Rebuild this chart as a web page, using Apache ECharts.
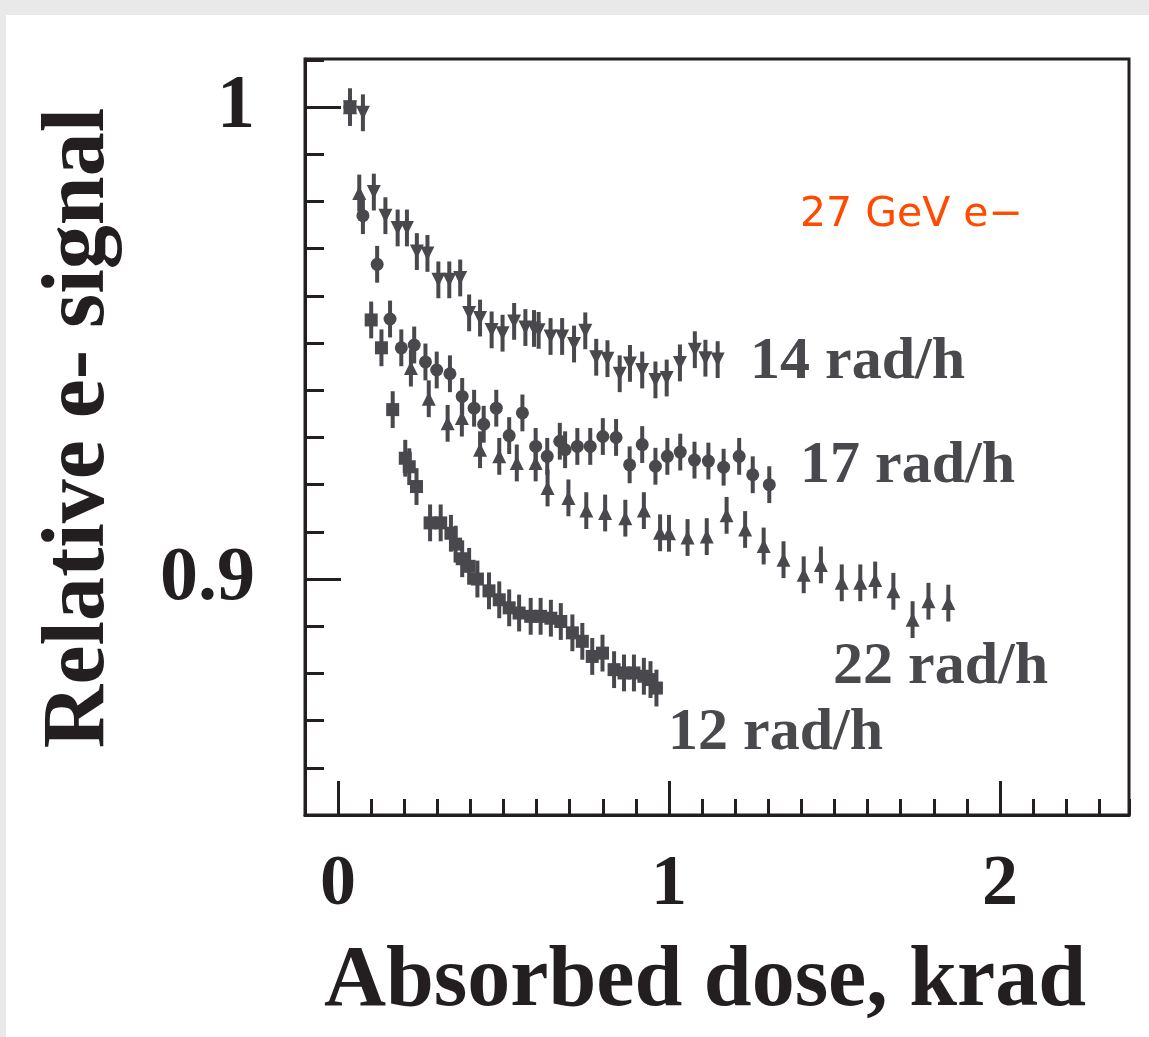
<!DOCTYPE html>
<html>
<head>
<meta charset="utf-8">
<title>Relative e- signal vs absorbed dose</title>
<script src="https://cdn.jsdelivr.net/npm/echarts@6/dist/echarts.min.js"></script>
<style>
  html, body { margin: 0; padding: 0; background: #e9e9e9; }
  #paper { position: absolute; left: 6px; top: 15px; right: 0; bottom: 0; background: #ffffff; }
  #chart { position: absolute; left: 0; top: 0; width: 1149px; height: 1037px; }
</style>
</head>
<body>
<div id="paper"></div>
<div id="chart"></div>
<script>
// Absorbed dose (krad) and relative e- signal for each dose rate
const dose14 = [0.036, 0.075, 0.108, 0.143, 0.180, 0.208, 0.238, 0.270, 0.303, 0.336, 0.369, 0.396, 0.429, 0.464, 0.497, 0.532, 0.566, 0.592, 0.606, 0.642, 0.677, 0.713, 0.747, 0.780, 0.814, 0.851, 0.882, 0.919, 0.959, 0.993, 1.033, 1.078, 1.110, 1.147];
const signal14 = [1.000, 0.9988, 0.982, 0.977, 0.9744, 0.9744, 0.9694, 0.969, 0.9634, 0.9634, 0.9638, 0.9564, 0.9553, 0.9528, 0.9521, 0.9546, 0.9533, 0.9531, 0.9527, 0.9514, 0.9514, 0.9498, 0.9526, 0.947, 0.9467, 0.9435, 0.9457, 0.9443, 0.9422, 0.9426, 0.9458, 0.9486, 0.9468, 0.9465];

const dose17 = [0.036, 0.075, 0.118, 0.157, 0.191, 0.230, 0.264, 0.298, 0.338, 0.375, 0.411, 0.440, 0.478, 0.517, 0.557, 0.597, 0.632, 0.670, 0.686, 0.723, 0.762, 0.800, 0.840, 0.881, 0.919, 0.959, 0.995, 1.034, 1.077, 1.119, 1.165, 1.212, 1.253, 1.303];
const signal17 = [1.000, 0.977, 0.9667, 0.9551, 0.949, 0.9496, 0.946, 0.9443, 0.9435, 0.9387, 0.9362, 0.9328, 0.9362, 0.9304, 0.9352, 0.9281, 0.926, 0.9292, 0.9274, 0.9281, 0.9281, 0.9302, 0.930, 0.9242, 0.9285, 0.9239, 0.926, 0.9269, 0.9252, 0.925, 0.9237, 0.926, 0.9221, 0.920];

const dose22 = [0.036, 0.064, 0.220, 0.274, 0.331, 0.374, 0.429, 0.487, 0.540, 0.597, 0.633, 0.696, 0.750, 0.807, 0.868, 0.924, 0.973, 1.000, 1.056, 1.114, 1.174, 1.230, 1.286, 1.346, 1.407, 1.459, 1.522, 1.578, 1.623, 1.678, 1.736, 1.784, 1.844];
const signal22 = [1.000, 0.9818, 0.9447, 0.9382, 0.933, 0.9341, 0.9274, 0.926, 0.9246, 0.9246, 0.9193, 0.9172, 0.9145, 0.914, 0.9129, 0.9145, 0.9098, 0.9097, 0.9088, 0.909, 0.9135, 0.9105, 0.907, 0.9041, 0.9009, 0.903, 0.8992, 0.8992, 0.8998, 0.8974, 0.8914, 0.8953, 0.8949];

const dose12 = [0.036, 0.100, 0.131, 0.165, 0.203, 0.215, 0.237, 0.278, 0.310, 0.341, 0.355, 0.375, 0.396, 0.421, 0.456, 0.487, 0.517, 0.547, 0.582, 0.612, 0.643, 0.673, 0.708, 0.738, 0.768, 0.799, 0.834, 0.864, 0.894, 0.924, 0.944, 0.962];
const signal12 = [1.000, 0.9549, 0.949, 0.9359, 0.9256, 0.9238, 0.9196, 0.9119, 0.9119, 0.9097, 0.9074, 0.9043, 0.9027, 0.900, 0.8975, 0.8956, 0.8939, 0.8928, 0.8921, 0.8921, 0.8917, 0.891, 0.8886, 0.8868, 0.8836, 0.8843, 0.8808, 0.8801, 0.8801, 0.8794, 0.8787, 0.8769];

// Statistical uncertainty on each measurement (half-length of the error bar)
const signalError = 0.0039;

// Labelled ticks
const doseTickLabels = [0, 1, 2];
const signalTickLabels = [0.9, 1];

const seriesNames = ['14 rad/h', '17 rad/h', '22 rad/h', '12 rad/h'];
const beamLabel = '27 GeV e\u2212';
const xTitle = 'Absorbed dose, krad';
const yTitle = 'Relative e- signal';

const INK = '#231f20';
const MARK = '#48484d';
const SERIF = '"Liberation Serif", "Times New Roman", serif';

const runs = [
  { name: seriesNames[0], dose: dose14, signal: signal14, symbol: 'triangle', rotate: 180, size: 14 },
  { name: seriesNames[1], dose: dose17, signal: signal17, symbol: 'circle', rotate: 0, size: 13 },
  { name: seriesNames[2], dose: dose22, signal: signal22, symbol: 'triangle', rotate: 0, size: 14 },
  { name: seriesNames[3], dose: dose12, signal: signal12, symbol: 'rect', rotate: 0, size: 13 }
];

function errorBar(params, api) {
  const x = api.value(0), y = api.value(1), e = api.value(2);
  const hi = api.coord([x, y + e]);
  const lo = api.coord([x, y - e]);
  return {
    type: 'line',
    shape: { x1: hi[0], y1: hi[1], x2: lo[0], y2: lo[1] },
    style: { stroke: MARK, lineWidth: 4 }
  };
}

const series = [];
runs.forEach(r => {
  const pts = r.dose.map((d, i) => [d, r.signal[i], signalError]);
  series.push({
    name: r.name + ' error',
    type: 'custom',
    xAxisIndex: 0, yAxisIndex: 0,
    renderItem: errorBar,
    encode: { x: 0, y: 1 },
    data: pts,
    silent: true,
    z: 3
  });
  series.push({
    name: r.name,
    type: 'scatter',
    xAxisIndex: 0, yAxisIndex: 0,
    symbol: r.symbol,
    symbolRotate: r.rotate,
    symbolSize: r.size,
    itemStyle: { color: MARK, opacity: 1 },
    data: pts.map(p => [p[0], p[1]]),
    silent: true,
    z: 4
  });
});

const labelFont = 'bold 60px ' + SERIF;

const chart = echarts.init(document.getElementById('chart'), null, { renderer: 'canvas' });
chart.setOption({
  animation: false,
  backgroundColor: 'transparent',
  grid: {
    left: 305, top: 59, width: 824, height: 756,
    show: true, borderColor: INK, borderWidth: 3, backgroundColor: 'transparent'
  },
  xAxis: [
    {
      type: 'value', min: -0.1, max: 2.39, interval: 0.1, position: 'bottom',
      axisLine: { show: true, onZero: false, lineStyle: { color: INK, width: 3 } },
      axisTick: { show: true, inside: true, length: 16, lineStyle: { color: INK, width: 3 } },
      axisLabel: { show: false },
      splitLine: { show: false }
    },
    {
      type: 'value', min: -0.1, max: 2.39, interval: 0.1, position: 'bottom',
      axisLine: { show: false, onZero: false },
      axisTick: { show: true, inside: true, length: 34, customValues: doseTickLabels, lineStyle: { color: INK, width: 3 } },
      axisLabel: {
        show: true, customValues: doseTickLabels, margin: 34,
        fontFamily: SERIF, fontWeight: 'bold', fontSize: 72, color: INK,
        formatter: v => String(Math.round(v))
      },
      splitLine: { show: false }
    }
  ],
  yAxis: [
    {
      type: 'value', min: 0.85, max: 1.0102, interval: 0.01, position: 'left',
      axisLine: { show: true, onZero: false, lineStyle: { color: INK, width: 3 } },
      axisTick: { show: true, inside: true, length: 19, lineStyle: { color: INK, width: 3 } },
      axisLabel: { show: false },
      splitLine: { show: false }
    },
    {
      type: 'value', min: 0.85, max: 1.0102, interval: 0.01, position: 'left',
      axisLine: { show: false, onZero: false },
      axisTick: { show: true, inside: true, length: 36, customValues: signalTickLabels, lineStyle: { color: INK, width: 3 } },
      axisLabel: {
        show: true, customValues: signalTickLabels, margin: 50,
        fontFamily: SERIF, fontWeight: 'bold', fontSize: 76, color: INK,
        formatter: v => (Math.abs(v - 1) < 1e-9 ? '1' : '0.9')
      },
      splitLine: { show: false }
    }
  ],
  series: series,
  graphic: [
    { type: 'text', x: 750, y: 362, style: { text: seriesNames[0], font: labelFont, fill: MARK, verticalAlign: 'middle' } },
    { type: 'text', x: 800, y: 466, style: { text: seriesNames[1], font: labelFont, fill: MARK, verticalAlign: 'middle' } },
    { type: 'text', x: 833, y: 667, style: { text: seriesNames[2], font: labelFont, fill: MARK, verticalAlign: 'middle' } },
    { type: 'text', x: 668, y: 733, style: { text: seriesNames[3], font: labelFont, fill: MARK, verticalAlign: 'middle' } },
    { type: 'text', x: 800, y: 215, style: { text: beamLabel, font: '41px "DejaVu Sans", sans-serif', fill: '#ff4a00', verticalAlign: 'middle' } },
    { type: 'text', x: 705, y: 983, style: { text: xTitle, font: 'bold 86px ' + SERIF, fill: INK, align: 'center', verticalAlign: 'middle' } },
    { type: 'text', x: 80, y: 428, rotation: Math.PI / 2, style: { text: yTitle, font: 'bold 88px ' + SERIF, fill: INK, align: 'center', verticalAlign: 'middle' } }
  ]
});
</script>
</body>
</html>
